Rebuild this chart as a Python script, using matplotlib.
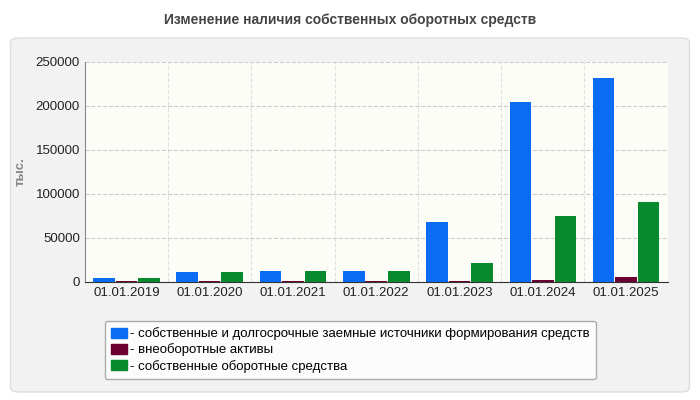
import matplotlib.pyplot as plt
from matplotlib.patches import FancyBboxPatch
import numpy as np

plt.rcParams["font.family"] = ["Liberation Sans", "DejaVu Sans"]

dates = ["01.01.2019", "01.01.2020", "01.01.2021", "01.01.2022",
         "01.01.2023", "01.01.2024", "01.01.2025"]
own_long = [5000, 11000, 12500, 12500, 68000, 205000, 232000]
noncurrent = [1000, 1000, 1000, 1000, 1000, 2500, 5500]
working = [4500, 11000, 12000, 12000, 21500, 75000, 91000]

fig = plt.figure(figsize=(7, 4), dpi=100)
fig.patch.set_facecolor("white")
panel = FancyBboxPatch((0.015, 0.02), 0.97, 0.885, boxstyle="round,pad=0,rounding_size=0.012",
                       transform=fig.transFigure, facecolor="#f2f2f2", edgecolor="#dddddd",
                       zorder=-10)
fig.add_artist(panel)
fig.text(0.5, 0.95, "Изменение наличия собственных оборотных средств", ha="center", va="center",
         fontsize=10, fontweight="bold", color="#444444")

ax = fig.add_axes([0.121, 0.295, 0.833, 0.55], zorder=5)
ax.set_facecolor("#fdfdf7")
x = np.arange(len(dates))
w = 0.26
ax.bar(x - w - 0.01, own_long, w, color="#0a6cf5", zorder=3)
ax.bar(x, noncurrent, w, color="#6b0030", zorder=3)
ax.bar(x + w + 0.01, working, w, color="#078a2e", zorder=3)
ax.set_xlim(-0.5, len(dates) - 0.5)
ax.set_ylim(0, 250000)
ax.set_yticks(range(0, 250001, 50000))
ax.set_xticks(x)
ax.set_xticklabels(dates)
ax.tick_params(labelsize=9.5, length=0, colors="#222222")
ax.grid(axis="y", color="#cccccc", linestyle="--", linewidth=0.8, zorder=0)
for b in np.arange(0.5, len(dates) - 0.5):
    ax.axvline(b, color="#e0e0e0", linestyle="--", linewidth=0.8, zorder=0)
for s in ["top", "right"]:
    ax.spines[s].set_visible(False)
ax.spines["left"].set_color("#888888")
ax.spines["bottom"].set_color("#333333")
fig.text(0.03, 0.57, "тыс.", rotation=90, ha="center", va="center",
         fontsize=9.5, fontweight="bold", color="#888888")

handles = [plt.Rectangle((0, 0), 1, 1, color=c) for c in ["#0a6cf5", "#6b0030", "#078a2e"]]
labels = ["- собственные и долгосрочные заемные источники формирования средств",
          "- внеоборотные активы", "- собственные оборотные средства"]
leg = fig.legend(handles, labels, loc="upper left", bbox_to_anchor=(0.14, 0.215), frameon=True,
                 fontsize=9.5, handlelength=1.2, handleheight=0.8, handletextpad=0.2,
                 labelspacing=0.25, borderpad=0.5, fancybox=True)
leg.get_frame().set_facecolor("white")
leg.get_frame().set_edgecolor("#999999")
leg.set_zorder(6)

fig.savefig("out.png", dpi=100)
